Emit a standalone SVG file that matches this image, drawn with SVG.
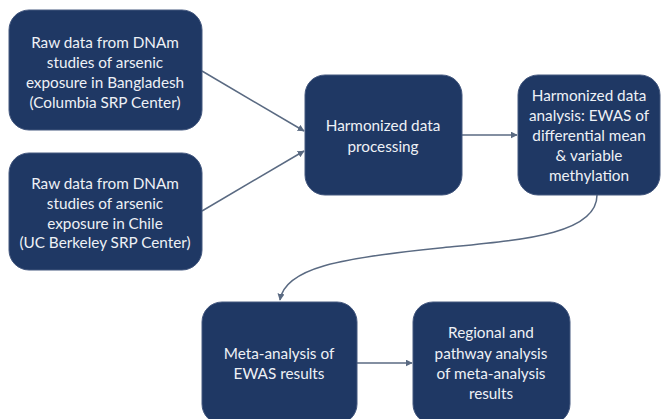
<svg xmlns="http://www.w3.org/2000/svg" width="663" height="419" viewBox="0 0 663 419">
<style>
.box{fill:#1f3864;stroke:#44587f;stroke-width:1}
.t{font-family:Lato,"Liberation Sans",sans-serif;font-size:15.3px;fill:#eef1f6;text-anchor:middle;dominant-baseline:central}
.c{fill:none;stroke:#5a6a82;stroke-width:1.5}
</style>
<defs>
<marker id="ah" viewBox="0 0 10 10" refX="9" refY="5" markerWidth="7" markerHeight="7" markerUnits="userSpaceOnUse" orient="auto">
<path d="M0,0 L10,5 L0,10 z" fill="#5a6a82"/>
</marker>
</defs>
<rect width="663" height="419" fill="#ffffff"/>
<g id="connectors">
<line class="c" x1="202" y1="71" x2="304" y2="131" marker-end="url(#ah)"/>
<line class="c" x1="202" y1="211" x2="304" y2="151" marker-end="url(#ah)"/>
<line class="c" x1="462" y1="135" x2="517" y2="135" marker-end="url(#ah)"/>
<path class="c" d="M597,195 C597,235 520,240 440,248 C340,258 285,268 280,300" marker-end="url(#ah)"/>
<line class="c" x1="357" y1="363" x2="412" y2="363" marker-end="url(#ah)"/>
</g>
<g id="n1">
<rect class="box" x="9" y="10" width="193" height="120" rx="20"/>
<text class="t" x="105" y="42">Raw data from DNAm</text>
<text class="t" x="105" y="62">studies of arsenic</text>
<text class="t" x="105" y="82">exposure in Bangladesh</text>
<text class="t" x="105" y="102">(Columbia SRP Center)</text>
</g>
<g id="n2">
<rect class="box" x="9" y="153" width="193" height="117" rx="20"/>
<text class="t" x="105" y="183">Raw data from DNAm</text>
<text class="t" x="105" y="203">studies of arsenic</text>
<text class="t" x="105" y="223">exposure in Chile</text>
<text class="t" x="105" y="242">(UC Berkeley SRP Center)</text>
</g>
<g id="n3">
<rect class="box" x="305" y="75" width="157" height="120" rx="20"/>
<text class="t" x="383" y="125">Harmonized data</text>
<text class="t" x="383" y="146">processing</text>
</g>
<g id="n4">
<rect class="box" x="518" y="75" width="142" height="120" rx="20"/>
<text class="t" x="589" y="95">Harmonized data</text>
<text class="t" x="589" y="115">analysis: EWAS of</text>
<text class="t" x="589" y="135">differential mean</text>
<text class="t" x="589" y="155">&amp; variable</text>
<text class="t" x="589" y="175">methylation</text>
</g>
<g id="n5">
<rect class="box" x="202" y="302" width="155" height="122" rx="20"/>
<text class="t" x="279" y="353">Meta-analysis of</text>
<text class="t" x="279" y="373">EWAS results</text>
</g>
<g id="n6">
<rect class="box" x="413" y="302" width="157" height="122" rx="20"/>
<text class="t" x="491" y="332">Regional and</text>
<text class="t" x="491" y="353">pathway analysis</text>
<text class="t" x="491" y="373">of meta-analysis</text>
<text class="t" x="491" y="393">results</text>
</g>
</svg>
